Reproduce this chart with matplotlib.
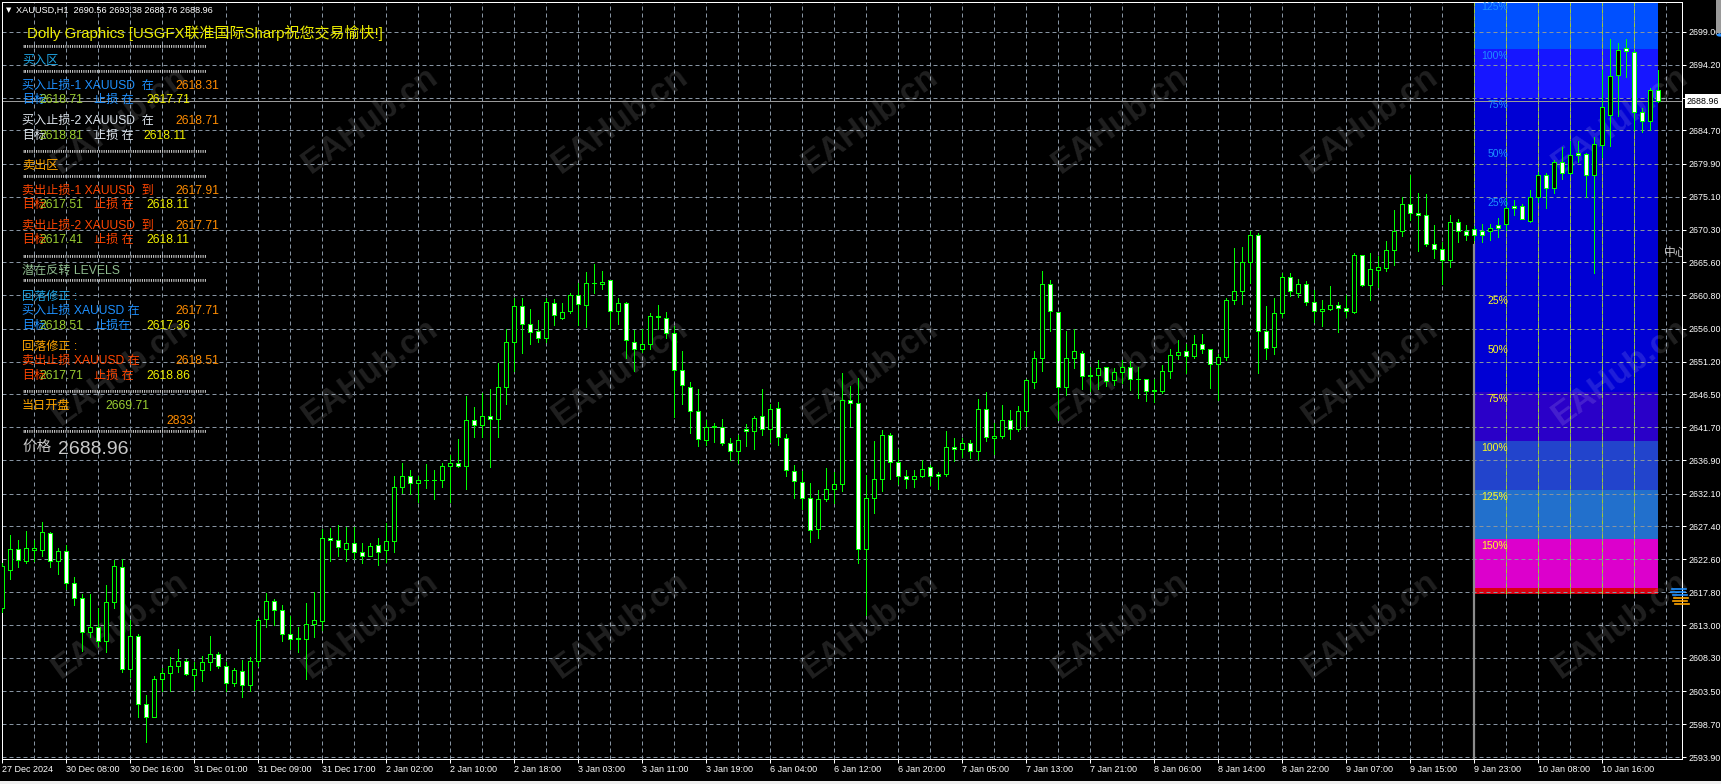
import numpy as np
import matplotlib
matplotlib.use("Agg")
import matplotlib.pyplot as plt
from matplotlib.patches import Rectangle, Circle
from matplotlib.lines import Line2D
from matplotlib.transforms import blended_transform_factory, offset_copy

W, H, DPI = 1721, 784, 100
FAM = ['Liberation Sans', 'Noto Sans CJK SC', 'DejaVu Sans']

# ---------------- data (XAUUSD H1 candles) ----------------
opens = [2615.5, 2621.1, 2624.1, 2622.3, 2624.0, 2623.9, 2626.4, 2622.3, 2623.8, 2619.1,
         2617.0, 2612.0, 2612.8, 2610.7, 2616.4, 2621.5, 2606.7, 2611.5, 2601.6, 2599.8,
         2605.2, 2606.1, 2607.1, 2607.8, 2605.8, 2606.5, 2607.7, 2608.9, 2607.1, 2604.6,
         2606.4, 2604.4, 2607.8, 2613.9, 2616.5, 2615.3, 2611.8, 2611.1, 2611.1, 2613.2,
         2613.6, 2625.7, 2625.4, 2624.1, 2624.9, 2623.6, 2623.0, 2624.6, 2623.9, 2625.3,
         2633.0, 2634.7, 2633.6, 2634.0, 2634.1, 2634.1, 2636.1, 2636.5, 2636.1, 2642.7,
         2642.0, 2643.4, 2642.9, 2647.5, 2654.0, 2659.2, 2656.6, 2655.6, 2654.7, 2659.7,
         2657.5, 2658.5, 2660.8, 2659.4, 2662.6, 2662.4, 2663.0, 2658.6, 2659.7, 2654.1,
         2653.0, 2653.7, 2657.8, 2657.6, 2655.3, 2650.0, 2647.6, 2644.0, 2639.9, 2641.8,
         2641.8, 2639.5, 2638.3, 2641.5, 2641.1, 2643.4, 2641.4, 2644.5, 2640.2, 2635.4,
         2633.8, 2631.5, 2626.9, 2631.3, 2632.8, 2633.5, 2645.6, 2645.2, 2624.1, 2631.4,
         2634.2, 2640.6, 2636.7, 2634.6, 2634.2, 2634.6, 2636.0, 2635.0, 2634.9, 2638.9,
         2638.6, 2639.4, 2638.2, 2644.3, 2640.2, 2640.5, 2642.7, 2641.4, 2644.0, 2648.3,
         2651.7, 2662.4, 2658.4, 2647.6, 2651.8, 2652.5, 2649.2, 2649.3, 2650.4, 2648.5,
         2649.7, 2650.5, 2648.7, 2648.7, 2647.0, 2646.9, 2649.9, 2652.2, 2652.7, 2652.0,
         2653.7, 2653.1, 2650.8, 2651.9, 2660.2, 2661.4, 2665.7, 2669.5, 2655.6, 2653.3,
         2658.3, 2663.4, 2661.2, 2662.5, 2659.9, 2658.5, 2658.9, 2659.4, 2659.0, 2658.4,
         2666.7, 2662.3, 2664.5, 2664.8, 2667.4, 2670.2, 2674.1, 2672.8, 2672.4, 2668.3,
         2667.5, 2666.0, 2671.4, 2670.2, 2670.4, 2670.1, 2670.1, 2671.0, 2671.1, 2673.8,
         2673.8, 2671.6, 2675.0, 2678.2, 2676.3, 2680.1, 2678.6, 2681.4, 2681.3, 2678.3,
         2682.6, 2686.9, 2692.7, 2696.6, 2696.1, 2687.3, 2686.0, 2690.56]
highs = [2622.0, 2626.1, 2625.4, 2626.7, 2625.4, 2628.0, 2626.6, 2624.2, 2624.6, 2620.0,
         2617.5, 2617.5, 2615.5, 2618.8, 2622.5, 2622.6, 2613.8, 2611.8, 2602.9, 2605.7,
         2606.8, 2608.4, 2609.6, 2608.1, 2607.7, 2608.6, 2611.5, 2609.1, 2607.7, 2606.9,
         2608.0, 2608.5, 2614.1, 2617.7, 2616.8, 2615.9, 2614.3, 2612.8, 2616.2, 2617.8,
         2626.9, 2627.1, 2627.5, 2627.2, 2627.3, 2624.9, 2624.9, 2625.7, 2627.8, 2634.6,
         2636.5, 2635.5, 2634.6, 2636.4, 2635.5, 2636.5, 2637.7, 2640.0, 2646.2, 2644.6,
         2646.6, 2647.3, 2651.0, 2655.9, 2660.5, 2660.4, 2658.8, 2657.2, 2660.5, 2660.3,
         2659.7, 2661.2, 2662.6, 2664.2, 2665.4, 2664.3, 2663.0, 2660.4, 2659.9, 2655.8,
         2655.9, 2658.2, 2659.4, 2658.4, 2656.4, 2652.8, 2648.3, 2647.3, 2642.7, 2642.3,
         2642.9, 2640.1, 2640.6, 2642.2, 2643.3, 2647.3, 2645.1, 2645.3, 2640.8, 2636.2,
         2635.4, 2633.6, 2632.6, 2635.8, 2635.2, 2649.5, 2647.7, 2648.8, 2634.8, 2639.7,
         2641.3, 2640.9, 2638.6, 2635.5, 2635.5, 2637.0, 2636.3, 2635.2, 2641.1, 2640.1,
         2640.2, 2639.8, 2645.8, 2646.8, 2642.3, 2644.9, 2644.2, 2644.8, 2648.7, 2652.7,
         2664.3, 2663.0, 2658.4, 2655.6, 2655.9, 2652.7, 2650.5, 2651.5, 2650.5, 2650.3,
         2651.5, 2651.3, 2650.4, 2648.7, 2648.7, 2650.7, 2653.0, 2654.4, 2653.8, 2655.0,
         2655.2, 2653.1, 2652.3, 2660.4, 2667.6, 2667.8, 2670.1, 2669.8, 2659.2, 2660.5,
         2664.1, 2664.0, 2663.2, 2662.9, 2661.6, 2660.1, 2662.1, 2659.9, 2660.9, 2666.9,
         2666.7, 2666.9, 2666.5, 2668.7, 2673.2, 2675.1, 2678.2, 2675.7, 2675.5, 2671.0,
         2668.6, 2672.5, 2671.8, 2671.0, 2670.9, 2671.2, 2671.2, 2672.0, 2674.9, 2674.6,
         2674.1, 2676.1, 2678.7, 2678.6, 2680.4, 2682.3, 2683.1, 2683.1, 2681.4, 2683.8,
         2693.5, 2697.9, 2697.3, 2697.9, 2696.4, 2687.9, 2690.9, 2693.38]
lows = [2615.0, 2619.8, 2621.4, 2622.1, 2622.4, 2623.1, 2621.5, 2620.5, 2618.3, 2615.9,
        2609.3, 2611.3, 2610.0, 2609.1, 2615.5, 2606.3, 2605.5, 2599.7, 2596.1, 2599.8,
        2603.5, 2603.5, 2606.3, 2605.8, 2603.7, 2605.0, 2606.6, 2606.8, 2603.5, 2604.3,
        2602.6, 2603.5, 2607.2, 2612.8, 2613.0, 2610.8, 2609.6, 2609.2, 2605.3, 2611.3,
        2612.4, 2622.3, 2623.1, 2622.4, 2622.6, 2622.0, 2623.0, 2621.7, 2622.2, 2623.7,
        2632.2, 2632.1, 2630.9, 2632.9, 2631.3, 2633.0, 2630.9, 2636.0, 2632.7, 2640.3,
        2640.3, 2636.0, 2640.3, 2645.1, 2649.9, 2652.5, 2653.7, 2654.0, 2654.1, 2656.5,
        2657.4, 2658.2, 2656.5, 2656.2, 2661.2, 2661.7, 2655.9, 2656.7, 2651.8, 2649.9,
        2652.6, 2653.1, 2656.0, 2654.6, 2643.2, 2645.1, 2640.9, 2639.0, 2639.1, 2639.6,
        2639.2, 2636.9, 2636.5, 2639.0, 2638.6, 2640.6, 2639.6, 2639.1, 2634.6, 2631.5,
        2629.9, 2625.1, 2625.6, 2631.0, 2630.7, 2632.5, 2641.9, 2622.0, 2614.5, 2629.3,
        2632.5, 2634.2, 2633.5, 2632.9, 2633.1, 2634.5, 2633.4, 2632.8, 2634.7, 2636.8,
        2637.4, 2637.3, 2636.9, 2639.7, 2637.8, 2640.2, 2640.0, 2641.2, 2641.9, 2647.4,
        2649.9, 2655.7, 2642.7, 2646.4, 2650.3, 2647.3, 2647.0, 2647.2, 2647.7, 2647.9,
        2648.1, 2647.1, 2645.9, 2645.5, 2645.3, 2646.6, 2648.9, 2651.6, 2649.6, 2651.8,
        2652.4, 2647.4, 2645.6, 2651.5, 2659.5, 2659.5, 2662.6, 2649.5, 2651.6, 2652.3,
        2657.7, 2660.7, 2660.6, 2659.4, 2656.9, 2656.4, 2658.7, 2655.5, 2657.7, 2658.2,
        2662.2, 2660.2, 2662.0, 2664.4, 2665.2, 2669.4, 2671.7, 2667.3, 2668.0, 2666.2,
        2662.5, 2664.9, 2668.6, 2668.9, 2668.8, 2668.5, 2668.9, 2669.2, 2670.3, 2672.5,
        2671.8, 2671.5, 2674.3, 2673.5, 2675.7, 2677.7, 2678.4, 2680.1, 2675.0, 2664.1,
        2680.9, 2682.5, 2686.8, 2692.5, 2684.8, 2684.5, 2684.7, 2688.76]
closes = [2621.6, 2624.1, 2622.5, 2624.2, 2624.2, 2626.5, 2622.4, 2623.8, 2619.1, 2617.0,
          2612.0, 2612.8, 2610.7, 2616.4, 2621.6, 2606.7, 2611.5, 2601.6, 2599.8, 2605.2,
          2606.1, 2607.1, 2607.8, 2606.0, 2606.7, 2607.7, 2608.9, 2607.1, 2604.7, 2606.5,
          2604.4, 2607.8, 2613.8, 2616.5, 2615.3, 2611.8, 2611.1, 2611.2, 2613.2, 2613.8,
          2625.7, 2625.4, 2624.4, 2624.9, 2623.7, 2623.0, 2624.5, 2623.7, 2625.3, 2633.0,
          2634.7, 2633.6, 2634.0, 2634.1, 2634.0, 2636.1, 2636.5, 2636.1, 2642.7, 2642.0,
          2643.4, 2642.9, 2647.6, 2654.0, 2659.2, 2656.6, 2655.5, 2654.7, 2659.8, 2657.9,
          2658.4, 2660.8, 2659.5, 2662.6, 2662.6, 2662.8, 2658.6, 2659.7, 2654.3, 2653.0,
          2653.7, 2657.8, 2657.7, 2655.3, 2650.0, 2647.8, 2644.0, 2640.0, 2641.8, 2641.85,
          2639.5, 2638.3, 2639.9, 2641.1, 2643.1, 2641.4, 2644.4, 2640.3, 2635.5, 2633.9,
          2631.5, 2626.8, 2631.3, 2632.8, 2633.5, 2645.6, 2645.2, 2624.1, 2631.5, 2634.2,
          2640.6, 2636.7, 2634.6, 2634.2, 2634.6, 2635.7, 2634.6, 2634.7, 2638.9, 2638.5,
          2639.5, 2638.2, 2644.4, 2640.3, 2640.5, 2642.7, 2641.4, 2644.0, 2648.5, 2651.7,
          2662.4, 2658.6, 2647.6, 2651.8, 2652.7, 2649.2, 2649.25, 2650.3, 2648.4, 2649.7,
          2650.5, 2648.7, 2648.75, 2646.9, 2647.1, 2649.9, 2652.2, 2652.6, 2652.0, 2653.7,
          2653.1, 2650.9, 2651.9, 2660.2, 2661.4, 2665.7, 2669.5, 2655.6, 2653.2, 2658.2,
          2663.4, 2661.4, 2662.5, 2659.9, 2658.5, 2658.9, 2659.4, 2659.0, 2658.5, 2666.7,
          2662.3, 2664.6, 2664.9, 2667.4, 2670.2, 2674.1, 2672.8, 2672.4, 2668.3, 2667.5,
          2666.0, 2671.4, 2670.1, 2669.5, 2669.5, 2669.6, 2670.5, 2670.5, 2673.4, 2673.4,
          2671.8, 2675.0, 2678.2, 2676.3, 2680.1, 2678.6, 2681.1, 2681.1, 2678.3, 2682.7,
          2688.1, 2692.6, 2696.4, 2696.2, 2687.3, 2686.1, 2690.6, 2688.96]

time_labels = ["27 Dec 2024", "30 Dec 08:00", "30 Dec 16:00", "31 Dec 01:00", "31 Dec 09:00",
               "31 Dec 17:00", "2 Jan 02:00", "2 Jan 10:00", "2 Jan 18:00", "3 Jan 03:00",
               "3 Jan 11:00", "3 Jan 19:00", "6 Jan 04:00", "6 Jan 12:00", "6 Jan 20:00",
               "7 Jan 05:00", "7 Jan 13:00", "7 Jan 21:00", "8 Jan 06:00", "8 Jan 14:00",
               "8 Jan 22:00", "9 Jan 07:00", "9 Jan 15:00", "9 Jan 23:00", "10 Jan 08:00",
               "10 Jan 16:00"]
price_labels = ["2699.00", "2694.20", "2689.40", "2684.70", "2679.90", "2675.10", "2670.30",
                "2665.60", "2660.80", "2656.00", "2651.20", "2646.50", "2641.70", "2636.90",
                "2632.10", "2627.40", "2622.60", "2617.80", "2613.00", "2608.30", "2603.50",
                "2598.70", "2593.90"]

bid_price = 2688.96
bid_label = "2688.96"
chart_title = "XAUUSD,H1  2690.56 2693.38 2688.76 2688.96"

# zone (Dolly Graphics levels)
zone_center = 2668.1
zone_band_lo = [2617.5, 2618.4, 2625.5, 2632.6, 2639.7, 2646.8, 2689.4, 2696.5]
zone_band_hi = [2618.4, 2625.5, 2632.6, 2639.7, 2646.8, 2689.4, 2696.5, 2704.0]
zone_band_colors = ["#d80010", "#dc00cc", "#2270cc", "#2244cc", "#2a00c8",
                    "#0000d4", "#1616ff", "#0050ff"]
zone_upper_levels = [2675.2, 2682.3, 2689.4, 2696.5, 2703.6]
zone_upper_labels = ["25%", "50%", "75%", "100%", "125%"]
zone_lower_levels = [2661.0, 2653.9, 2646.8, 2639.7, 2632.6, 2625.5]
zone_lower_labels = ["25%", "50%", "75%", "100%", "125%", "150%"]
zone_first_bar, zone_last_bar = 184, 207

# ---------------- figure ----------------
fig = plt.figure(figsize=(W / DPI, H / DPI), dpi=DPI, facecolor="black")
ax = fig.add_axes([2 / W, 25 / H, 1680 / W, 757 / H])
ax.set_facecolor("black")
n = len(opens)
x = np.arange(n)
ax.set_xlim(-0.04, 209.96)
ax.set_ylim(2593.66, 2703.30)

LW = 0.72  # 1 px
GRID = "#8794a2"

# zones
for lo, hi, c in zip(zone_band_lo, zone_band_hi, zone_band_colors):
    ax.add_patch(Rectangle((zone_first_bar, lo), zone_last_bar - zone_first_bar, hi - lo,
                           facecolor=c, edgecolor="none", zorder=0.5))

# grid
for p in price_labels:
    ax.axhline(float(p), color=GRID, lw=LW, ls=(0, (4, 3)), zorder=1)
for i in range(0, 210, 4):
    ax.axvline(i, color=GRID, lw=LW, ls=(0, (4, 3)), zorder=1)
for i in range(zone_first_bar, zone_last_bar + 1, 4):
    ax.plot([i, i], [zone_band_lo[0], 2703.3], color="#9acd32", lw=LW,
            ls=(0, (4, 3)), zorder=1.1)
ax.plot([zone_first_bar, zone_first_bar], [2593.66, zone_center], color="#8c8c8c",
        lw=1.6, zorder=1.2)

# watermark
for wy in [120, 372, 625]:
    for wx in [120, 370, 620, 870, 1120, 1370, 1620]:
        ax.text(wx / W, 1 - wy / H, "EAHub.cn", transform=fig.transFigure,
                fontsize=24, fontweight="bold", family=FAM, color=(1, 1, 1, 0.13),
                rotation=36, ha="center", va="center", clip_on=False, zorder=1.5)

# bid line
ax.axhline(bid_price, color="#9a9a9a", lw=LW, zorder=2)

# candles
o = np.array(opens); c = np.array(closes)
ax.vlines(x, lows, highs, color="#00ff00", lw=LW, zorder=3, antialiased=False)
face = ["black" if cc >= oo else "white" for oo, cc in zip(o, c)]
ax.bar(x, np.abs(c - o), bottom=np.minimum(o, c), width=0.5, color=face,
       edgecolor="#00ff00", linewidth=LW, zorder=4, antialiased=False)

# zone labels
for lv, lb in zip(zone_upper_levels, zone_upper_labels):
    ax.text(188.2, lv - 1.05, lb, color="#1e90ff", fontsize=7.5, family=FAM,
            ha="right", va="center", zorder=5, clip_on=True)
for lv, lb in zip(zone_lower_levels, zone_lower_labels):
    ax.text(188.2, lv - 1.05, lb, color="#ffff20", fontsize=7.5, family=FAM,
            ha="right", va="center", zorder=5)
ax.text(207.7, zone_center - 1.15, "中心", color="#c8c8c8", fontsize=8.5, family=FAM,
        ha="left", va="center", zorder=5, clip_on=True)

# axes styling
for s in ax.spines.values():
    s.set_color("white"); s.set_linewidth(LW)
ax.set_xticks(range(0, 8 * len(time_labels), 8))
ax.set_xticklabels(time_labels, ha="left", fontsize=6.5, color="white", family=FAM)
ax.tick_params(axis="x", length=3, width=LW, colors="white", pad=1.5)
ax.yaxis.tick_right()
ax.set_yticks([float(p) for p in price_labels])
ax.set_yticklabels(price_labels, fontsize=6.4, color="white", family=FAM)
ax.tick_params(axis="y", length=3, width=LW, colors="white", pad=1.5)

bt = blended_transform_factory(ax.transAxes, ax.transData)
ax.text(1.0, bid_price, bid_label, transform=offset_copy(bt, fig=fig, x=5, y=0, units="dots"),
        ha="left", va="center", color="black", fontsize=6.4, family=FAM, clip_on=False,
        zorder=10, bbox=dict(boxstyle="square,pad=0.25", fc="white", ec="none"))

# ---------------- panel text ----------------
def ft(px, py, s, color, size=8.7, **kw):
    fig.text(px / W, 1 - py / H, s, color=color, fontsize=size, family=kw.get("family", FAM),
             ha=kw.get("ha", "left"), va="center", zorder=20)

BLUE = "#1e90ff"; CYAN = "#20a8e8"; ORANGE = "#ff8c00"; ORG = "#ffa500"
ORED = "#ff4500"; YG = "#9acd32"; YEL = "#f0f000"; WHT = "#dde4ec"
SEP = "'" * 82

ft(6, 10, "▼", "white", 5, family=["DejaVu Sans"])
ft(16.5, 10.5, chart_title, "white", 6.6)
ft(26.7, 33, "Dolly Graphics [USGFX联准国际Sharp祝您交易愉快!]", "#eeee00", 10.8)
for sy in [49, 74, 154, 179, 259, 283, 394, 434]:
    ft(22, sy + 1, SEP, "#d8d8d8", 8.7)
ft(22, 61, "买入区", CYAN)
ft(22, 86, "买入止损-1 XAUUSD  在", BLUE); ft(175.7, 86, "2618.31", ORANGE)
ft(22, 100, "目标", BLUE); ft(39.5, 100, "2618.71", YG); ft(94, 100, "止损 在", BLUE); ft(146, 100, "2617.71", YEL)
ft(22, 121, "买入止损-2 XAUUSD  在", WHT); ft(175.7, 121, "2618.71", ORANGE)
ft(22, 136, "目标", WHT); ft(39.5, 136, "2618.81", YG); ft(94, 136, "止损 在", WHT); ft(143, 136, "2618.11", YEL)
ft(22, 166, "卖出区", ORG)
ft(22, 191, "卖出止损-1 XAUUSD  到", ORED); ft(175.7, 191, "2617.91", ORANGE)
ft(22, 205, "目标", ORED); ft(39.5, 205, "2617.51", YG); ft(94, 205, "止损 在", ORED); ft(146, 205, "2618.11", YEL)
ft(22, 226, "卖出止损-2 XAUUSD  到", ORED); ft(175.7, 226, "2617.71", ORANGE)
ft(22, 240, "目标", ORED); ft(39.5, 240, "2617.41", YG); ft(94, 240, "止损 在", ORED); ft(146, 240, "2618.11", YEL)
ft(22, 271, "潜在反转 LEVELS", "#8fbc8f")
ft(22, 297, "回落修正 :", CYAN)
ft(22, 311, "买入止损 XAUUSD 在", BLUE); ft(175.7, 311, "2617.71", ORANGE)
ft(22, 326, "目标", BLUE); ft(39.5, 326, "2618.51", YG); ft(94, 326, "止损在", BLUE); ft(146, 326, "2617.36", YEL)
ft(22, 347, "回落修正 :", ORG)
ft(22, 361, "卖出止损 XAUUSD 在", ORED); ft(175.7, 361, "2618.51", ORANGE)
ft(22, 376, "目标", ORED); ft(39.5, 376, "2617.71", YG); ft(94, 376, "止损 在", ORED); ft(146, 376, "2618.86", YEL)
ft(22, 406, "当日开盘", ORG); ft(105, 406, "2669.71", YG)
ft(166, 421, "2833", ORANGE)
ft(22, 447, "价格", "#c8c8c8", 10.5)
ft(58, 449, "2688.96", "#c8c8c8", 14)

# small right-side markers and decorations
for yy, col, x0 in [(589, BLUE, 1672), (592, BLUE, 1671), (595, BLUE, 1673),
                    (598, ORG, 1674), (601, ORG, 1673), (604, ORG, 1675)]:
    fig.add_artist(Line2D([x0 / W, (x0 + 14) / W], [1 - yy / H, 1 - yy / H],
                          color=col, lw=1.2, transform=fig.transFigure))
fig.add_artist(Rectangle((1716 / W, 1 - 33 / H), 5 / W, 33 / H, facecolor="#9a9a9a",
                         edgecolor="none", transform=fig.transFigure))
fig.add_artist(Circle((1720 / W, 1 - 35 / H), 3.5 / W, facecolor="#2a90ff",
                      edgecolor="none", transform=fig.transFigure))
fig.add_artist(Rectangle((0, 0), 1, 3 / H, facecolor="#f0f0f0", edgecolor="none",
                         transform=fig.transFigure))

fig.savefig("out.png", dpi=DPI, facecolor="black")
